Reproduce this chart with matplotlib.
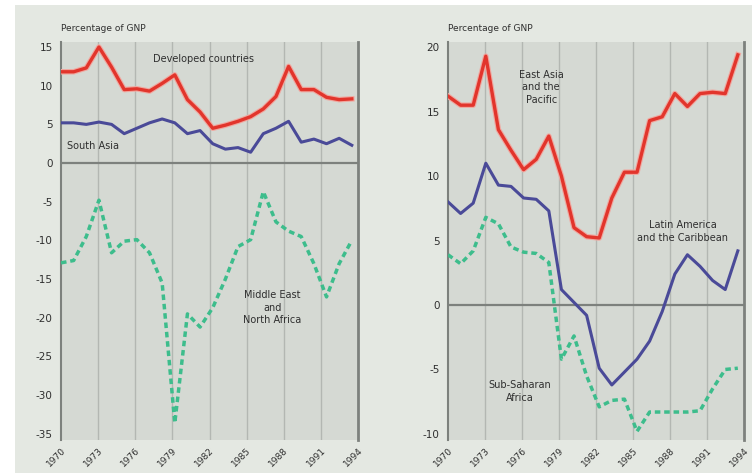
import numpy as np
import matplotlib.pyplot as plt
import matplotlib.patheffects as pe
from matplotlib.patches import Rectangle

# Data: percentage of GNP, 1970-1993
years = np.arange(1970, 1994)

developed = [11.8, 11.8, 12.3, 15.0, 12.4, 9.5, 9.6, 9.3, 10.3, 11.4, 8.2, 6.6,
             4.5, 4.9, 5.4, 6.0, 7.0, 8.6, 12.5, 9.5, 9.5, 8.5, 8.2, 8.3]
south_asia = [5.2, 5.2, 5.0, 5.3, 5.0, 3.8, 4.5, 5.2, 5.7, 5.2, 3.8, 4.2,
              2.5, 1.8, 2.0, 1.4, 3.8, 4.5, 5.4, 2.7, 3.1, 2.5, 3.2, 2.3]
mena = [-12.9, -12.6, -9.5, -4.8, -11.6, -10.1, -9.9, -11.6, -15.5, -33.6, -19.5, -21.2,
        -18.7, -15.0, -10.8, -9.9, -3.7, -7.6, -8.8, -9.5, -13.0, -17.3, -13.0, -10.0]

east_asia = [16.2, 15.5, 15.5, 19.3, 13.6, 12.0, 10.5, 11.3, 13.1, 10.0, 6.0, 5.3,
             5.2, 8.3, 10.3, 10.3, 14.3, 14.6, 16.4, 15.4, 16.4, 16.5, 16.4, 19.4]
latin_am = [8.0, 7.1, 7.9, 11.0, 9.3, 9.2, 8.3, 8.2, 7.3, 1.2, 0.2, -0.8,
            -4.9, -6.2, -5.2, -4.2, -2.8, -0.5, 2.4, 3.9, 3.0, 1.9, 1.2, 4.2]
sub_sahara = [3.9, 3.2, 4.2, 6.8, 6.3, 4.5, 4.1, 4.0, 3.3, -4.2, -2.4, -5.5,
              -7.9, -7.4, -7.3, -9.8, -8.3, -8.3, -8.3, -8.3, -8.2, -6.5, -5.0, -4.9]

tick_years = np.arange(1970, 1995, 3)
left_yticks = np.arange(-35, 16, 5)
right_yticks = np.arange(-10, 21, 5)

# Colours
FIG_BG = '#e4e8e2'
AX_BG = '#d5d9d3'
GRID = '#b3b7b2'
DARK = '#7d817d'
TEXT = '#2f2f2f'
RED = '#e2352c'
BLUE = '#4a4a98'
GREEN = '#3dbd8c'

# plotted span is a little shorter than the tick span
SCALE = 23 / 23.5
tick_pos = 1970 + (tick_years - 1970) * SCALE
x_right = 1970 + 24 * SCALE

fig = plt.figure(figsize=(7.52, 4.73), dpi=100, facecolor='white')
fig.patches.append(Rectangle((15 / 752, 0), 1, 1 - 5 / 473, transform=fig.transFigure,
                             facecolor=FIG_BG, edgecolor='none', zorder=-10))

ax_l = fig.add_axes([61 / 752, 33 / 473, 297 / 752, 398 / 473])
ax_r = fig.add_axes([448 / 752, 33 / 473, 296 / 752, 398 / 473])

red_fx = [pe.Stroke(linewidth=4.0, foreground='#f0a8a0'), pe.Normal()]


def style_axes(ax, yticks, ylim):
    ax.set_facecolor(AX_BG)
    ax.set_xlim(1970, x_right)
    ax.set_ylim(*ylim)
    for s in ['top', 'bottom']:
        ax.spines[s].set_visible(False)
    ax.spines['left'].set_color(DARK)
    ax.spines['left'].set_linewidth(1.5)
    ax.spines['right'].set_color(DARK)
    ax.spines['right'].set_linewidth(2)
    for xp in tick_pos[1:-1]:
        ax.axvline(xp, color=GRID, lw=1, zorder=1)
    ax.axhline(0, color=DARK, lw=1.6, zorder=2)
    ax.set_xticks(tick_pos)
    ax.set_xticklabels([str(y) for y in tick_years], rotation=45, ha='right',
                       rotation_mode='anchor', fontsize=6.5, color=TEXT)
    ax.set_yticks(yticks)
    ax.set_yticklabels([str(v) for v in yticks], fontsize=7.5, color=TEXT)
    ax.tick_params(length=0, pad=6)
    ax.tick_params(axis='x', pad=4)
    ax.text(0, 1.035, 'Percentage of GNP', transform=ax.transAxes, fontsize=6.5,
            color=TEXT, ha='left', va='center')


# Left panel
style_axes(ax_l, left_yticks, (-35.8, 15.65))
ax_l.plot(years, developed, color=RED, lw=2.4, zorder=4, path_effects=red_fx)
ax_l.plot(years, south_asia, color=BLUE, lw=2.2, zorder=3)
ax_l.plot(years, mena, color=GREEN, lw=2.5, ls=(0, (1.6, 1.1)), zorder=3)
ax_l.text(1981.3, 13.5, 'Developed countries', fontsize=7, color=TEXT, ha='center', va='center')
ax_l.text(1970.5, 2.2, 'South Asia', fontsize=7, color=TEXT, ha='left', va='center')
ax_l.text(1986.7, -18.7, 'Middle East\nand\nNorth Africa', fontsize=7, color=TEXT,
          ha='center', va='center', linespacing=1.3)

# Right panel
style_axes(ax_r, right_yticks, (-10.47, 20.4))
ax_r.plot(years, east_asia, color=RED, lw=2.4, zorder=4, path_effects=red_fx)
ax_r.plot(years, latin_am, color=BLUE, lw=2.2, zorder=3)
ax_r.plot(years, sub_sahara, color=GREEN, lw=2.5, ls=(0, (1.6, 1.1)), zorder=3)
ax_r.text(1977.4, 16.9, 'East Asia\nand the\nPacific', fontsize=7, color=TEXT,
          ha='center', va='center', linespacing=1.3)
ax_r.text(1988.6, 5.7, 'Latin America\nand the Caribbean', fontsize=7, color=TEXT,
          ha='center', va='center', linespacing=1.3, zorder=5)
ax_r.text(1975.7, -6.7, 'Sub-Saharan\nAfrica', fontsize=7, color=TEXT,
          ha='center', va='center', linespacing=1.3)

plt.savefig('out.png', dpi=100, facecolor='white')
